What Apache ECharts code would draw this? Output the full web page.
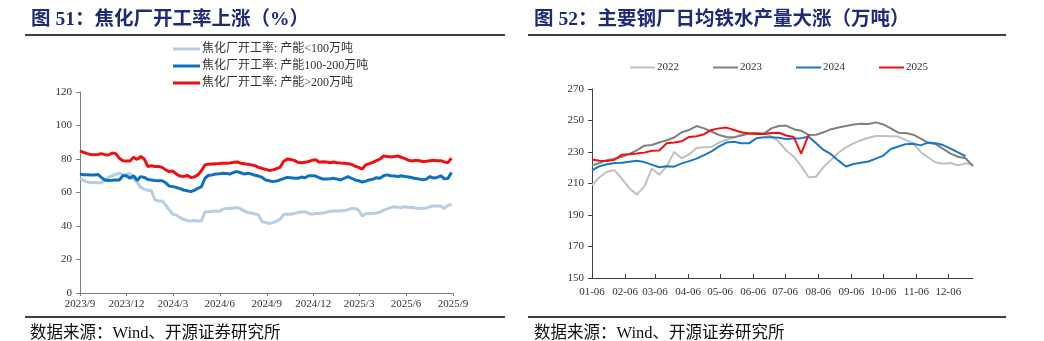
<!DOCTYPE html>
<html><head><meta charset="utf-8">
<script src="https://cdn.jsdelivr.net/npm/echarts@6/dist/echarts.min.js"></script>
<style>html,body{margin:0;padding:0;background:#fff}#c{width:1044px;height:341px}</style>
</head><body><div id="c"></div>
<script>
// ---------- Left chart data (weekly, from 2023-09-01) ----------
const leftStart = '2023-09-01';
const leftTickLabels = ['2023/9','2023/12','2024/3','2024/6','2024/9','2024/12','2025/3','2025/6','2025/9'];
const leftNames = ['焦化厂开工率: 产能<100万吨','焦化厂开工率: 产能100-200万吨','焦化厂开工率: 产能>200万吨'];
const capBelow100 = [
68.5,67.2,66.2,66.0,66.0,65.8,65.8,67.5,69.0,70.0,
70.8,71.5,70.5,70.8,71.3,68.5,66.0,63.0,62.0,61.3,
61.0,55.5,55.0,55.0,52.5,49.5,47.0,46.5,45.0,44.0,
43.3,43.0,43.3,43.0,43.2,48.5,48.5,48.8,49.0,48.6,
50.0,50.5,50.5,50.8,51.0,50.2,49.0,48.0,47.8,47.2,
46.5,42.5,42.0,41.5,42.0,42.8,44.0,47.0,47.0,47.0,
47.5,48.0,48.3,48.5,47.5,47.0,47.5,47.5,47.8,48.2,
48.8,49.0,49.0,49.0,49.2,49.8,50.5,50.5,49.5,46.0,
47.3,47.5,47.5,47.8,48.2,49.5,50.2,51.0,51.5,51.2,
51.0,51.5,51.0,51.2,50.8,50.5,50.5,50.8,51.5,52.0,
52.0,52.0,50.5,52.3,53.0];
const cap100to200 = [
71.0,70.6,70.6,70.5,70.5,70.8,69.0,67.5,67.2,67.3,
67.5,67.5,70.0,70.0,68.5,70.0,67.2,69.5,69.0,67.8,
67.5,67.2,67.0,67.0,65.8,63.8,63.5,63.0,62.3,61.5,
61.0,60.5,61.3,62.5,63.5,68.5,70.3,70.5,71.0,71.2,
71.5,71.3,71.0,72.0,72.5,71.8,71.0,71.5,71.0,70.3,
69.8,69.0,67.5,67.0,66.5,66.8,67.5,68.3,69.0,68.8,
68.5,68.5,69.2,68.8,70.0,70.0,69.8,68.8,68.0,68.0,
68.2,68.5,68.0,67.5,68.5,69.5,68.5,67.5,67.0,66.2,
66.8,67.5,68.0,68.8,68.5,70.0,70.5,70.0,69.8,69.6,
70.0,69.5,69.3,68.8,68.3,68.0,67.6,68.0,69.5,68.6,
69.0,70.0,68.2,68.3,72.0];
const capAbove200 = [
84.8,84.0,83.2,82.7,82.5,82.7,83.2,82.6,82.4,83.6,
83.2,80.5,79.0,78.8,78.8,81.0,79.8,81.5,80.0,75.5,
76.0,75.5,75.5,75.0,73.5,72.5,72.8,71.0,69.8,69.5,
70.2,69.0,69.3,70.5,73.0,76.5,76.8,77.0,77.2,77.3,
77.5,77.5,77.6,78.0,78.2,77.5,77.2,76.8,76.5,76.0,
75.0,74.3,73.8,73.2,73.5,74.2,75.0,78.5,80.0,79.7,
79.2,78.0,77.8,78.0,78.5,79.2,79.5,78.0,78.3,78.2,
77.8,78.2,77.8,77.6,77.5,77.2,76.8,75.8,75.0,74.0,
76.5,77.2,78.0,79.0,80.0,81.8,81.5,81.2,81.5,81.8,
81.0,80.2,79.2,78.8,79.3,79.0,78.5,78.7,79.0,79.2,
79.0,79.0,78.3,77.8,80.5];

// ---------- Right chart data (weekly, from 01-06) ----------
const rightStart = '01-06';
const rightTickLabels = ['01-06','02-06','03-06','04-06','05-06','06-06','07-06','08-06','09-06','10-06','11-06','12-06'];
const rightNames = ['2022','2023','2024','2025'];
const y2022 = [209,214,217.5,218.5,213,207,203,208,219.5,215.5,221,230,226,228.5,232.5,233,233.2,236,237.8,239.3,241,242,242.3,242,240,236.5,231,227,221,214,214.3,220.5,225,229.5,233,235.5,237.5,239,240.2,240.1,240,239.8,237.5,235.5,230,226.5,223.5,222.5,223,221.5,222.8,222];
const y2023 = [221.5,223,224.8,225.8,227,228.8,231,234,234.4,236,237.5,239.2,242.5,244,246.5,245,243,240.8,239.5,239.3,240.5,241.7,242,241.5,245,246.5,246.8,244.5,243.5,240.8,241,242.5,244.5,245.5,246.5,247.5,248,247.8,248.8,247.5,245,242.3,242,241,238.5,235.8,235,232,229,227,226,221];
const y2024 = [218.3,221,222.2,223,223.2,223.8,224.4,223.6,222,220.3,220.9,220.7,222.8,224.2,225.8,228,230.4,233.6,236,236.5,235.5,235.5,238.7,239.3,239.3,239,238.3,238.5,238.8,239.7,235.6,231.3,228.6,224.5,220.8,222.4,223.2,224,225.8,227.7,231.9,233.5,235,235.3,234.2,236,235.5,234.4,232.2,229.7,227.3];
const y2025 = [225.3,224.5,224.3,225,228.3,228.5,229,229.6,230.8,231,235.5,236,236.8,239.6,240,241.3,244,245,245.5,244,242.5,241.8,241.5,241.5,242,242.2,240.5,239.5,229,241];

// ---------- helpers ----------
const DAY = 864e5;
const leftT0 = Date.parse(leftStart + 'T00:00:00Z');
const leftWeekly = arr => arr.map((v, i) => [leftT0 + i * 7 * DAY, v]);
const leftTickVals = leftTickLabels.map(s => { const [y, m] = s.split('/').map(Number); return Date.UTC(y, m - 1, 1); });
const leftLabelOf = v => { const d = new Date(v); return d.getUTCFullYear() + '/' + (d.getUTCMonth() + 1); };

const mdToDay = s => { const [m, d] = s.split('-').map(Number); return Date.UTC(2025, m - 1, d); };
const rightT0 = mdToDay(rightStart);
const rightTickVals = rightTickLabels.map(s => (mdToDay(s) - rightT0) / DAY);
const rightLabelMap = {}; rightTickLabels.forEach((s, i) => rightLabelMap[rightTickVals[i]] = s);
const rightWeekly = arr => arr.map((v, i) => [i * 7, v]);

const SERIF = "'Liberation Serif','Noto Sans CJK SC',serif";
const TITLE_COLOR = '#1f2c73';

const chart = echarts.init(document.getElementById('c'), null, { renderer: 'canvas' });
chart.setOption({
  animation: false,
  backgroundColor: '#fff',
  title: [
    { text: '图 51：焦化厂开工率上涨（%）', left: 26, top: 5, textStyle: { fontFamily: SERIF, fontSize: 19.5, fontWeight: 'bold', color: TITLE_COLOR } },
    { text: '图 52：主要钢厂日均铁水产量大涨（万吨）', left: 529, top: 5, textStyle: { fontFamily: SERIF, fontSize: 19.5, fontWeight: 'bold', color: TITLE_COLOR } },
    { text: '数据来源：Wind、开源证券研究所', left: 25, top: 320, textStyle: { fontFamily: SERIF, fontSize: 16.5, fontWeight: 'normal', color: '#111' } },
    { text: '数据来源：Wind、开源证券研究所', left: 529, top: 320, textStyle: { fontFamily: SERIF, fontSize: 16.5, fontWeight: 'normal', color: '#111' } }
  ],
  graphic: [
    { type: 'line', shape: { x1: 25, y1: 35, x2: 505, y2: 35 }, style: { stroke: '#000', lineWidth: 1.5 } },
    { type: 'line', shape: { x1: 528, y1: 35, x2: 1006, y2: 35 }, style: { stroke: '#000', lineWidth: 1.5 } },
    { type: 'line', shape: { x1: 25, y1: 317, x2: 505, y2: 317 }, style: { stroke: '#000', lineWidth: 1.5 } },
    { type: 'line', shape: { x1: 528, y1: 317, x2: 1006, y2: 317 }, style: { stroke: '#000', lineWidth: 1.5 } }
  ],
  legend: [
    { data: leftNames, orient: 'vertical', left: 168, top: 38, itemWidth: 27, itemHeight: 3, itemGap: 5, icon: 'rect',
      textStyle: { fontFamily: SERIF, fontSize: 12, color: '#333', padding: [0, 0, 0, -3] } },
    { data: rightNames, orient: 'horizontal', left: 625, top: 57, itemWidth: 25, itemHeight: 2, itemGap: 34, icon: 'rect',
      textStyle: { fontFamily: SERIF, fontSize: 11, color: '#333', padding: [0, 0, 0, -3] } }
  ],
  grid: [
    { left: 80, right: 591, top: 92, bottom: 48 },
    { left: 592, right: 71, top: 89, bottom: 63 }
  ],
  xAxis: [
    { type: 'value', gridIndex: 0, min: leftTickVals[0], max: leftTickVals[leftTickVals.length - 1],
      axisLine: { lineStyle: { color: '#808080' } },
      axisTick: { show: true, length: 3, customValues: leftTickVals, lineStyle: { color: '#808080' } },
      axisLabel: { customValues: leftTickVals, formatter: v => leftLabelOf(v), fontFamily: SERIF, fontSize: 11, color: '#333', margin: 6 },
      splitLine: { show: false } },
    { type: 'value', gridIndex: 1, min: 0, max: 357,
      axisLine: { lineStyle: { color: '#404040' } },
      axisTick: { show: true, inside: true, length: 4, customValues: rightTickVals, lineStyle: { color: '#404040' } },
      axisLabel: { customValues: rightTickVals, formatter: v => rightLabelMap[v] || '', fontFamily: SERIF, fontSize: 11, color: '#333', margin: 9 },
      splitLine: { show: false } }
  ],
  yAxis: [
    { type: 'value', gridIndex: 0, min: 0, max: 120, interval: 20,
      axisLine: { show: true, lineStyle: { color: '#808080' } },
      axisTick: { show: true, length: 4, lineStyle: { color: '#808080' } },
      axisLabel: { fontFamily: SERIF, fontSize: 11, color: '#333', margin: 8 },
      splitLine: { show: false } },
    { type: 'value', gridIndex: 1, min: 150, max: 270, interval: 20,
      axisLine: { show: true, lineStyle: { color: '#404040' } },
      axisTick: { show: true, length: 4, lineStyle: { color: '#404040' } },
      axisLabel: { fontFamily: SERIF, fontSize: 11, color: '#333', margin: 8 },
      splitLine: { show: false } }
  ],
  series: [
    { name: leftNames[0], type: 'line', xAxisIndex: 0, yAxisIndex: 0, data: leftWeekly(capBelow100), showSymbol: false, color: '#b8cce4', lineStyle: { width: 3, color: '#b8cce4' } },
    { name: leftNames[1], type: 'line', xAxisIndex: 0, yAxisIndex: 0, data: leftWeekly(cap100to200), showSymbol: false, color: '#1070c0', lineStyle: { width: 3, color: '#1070c0' } },
    { name: leftNames[2], type: 'line', xAxisIndex: 0, yAxisIndex: 0, data: leftWeekly(capAbove200), showSymbol: false, color: '#ee1111', lineStyle: { width: 3, color: '#ee1111' } },
    { name: rightNames[0], type: 'line', xAxisIndex: 1, yAxisIndex: 1, data: rightWeekly(y2022), showSymbol: false, color: '#c0c0c0', lineStyle: { width: 2, color: '#c0c0c0' } },
    { name: rightNames[1], type: 'line', xAxisIndex: 1, yAxisIndex: 1, data: rightWeekly(y2023), showSymbol: false, color: '#808080', lineStyle: { width: 2, color: '#808080' } },
    { name: rightNames[2], type: 'line', xAxisIndex: 1, yAxisIndex: 1, data: rightWeekly(y2024), showSymbol: false, color: '#1a78c2', lineStyle: { width: 2, color: '#1a78c2' } },
    { name: rightNames[3], type: 'line', xAxisIndex: 1, yAxisIndex: 1, data: rightWeekly(y2025), showSymbol: false, color: '#ee1111', lineStyle: { width: 2, color: '#ee1111' } }
  ]
});
</script></body></html>
